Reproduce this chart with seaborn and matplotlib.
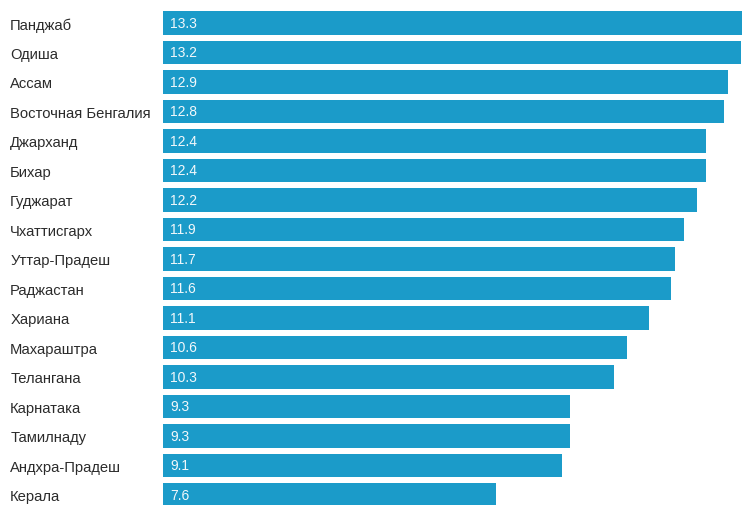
import pandas as pd
import matplotlib
matplotlib.use('Agg')
import matplotlib.pyplot as plt
import seaborn as sns

# Data
regions = ['Панджаб', 'Одиша', 'Ассам', 'Восточная Бенгалия', 'Джарханд', 'Бихар',
           'Гуджарат', 'Чхаттисгарх', 'Уттар-Прадеш', 'Раджастан', 'Хариана',
           'Махараштра', 'Телангана', 'Карнатака', 'Тамилнаду', 'Андхра-Прадеш', 'Керала']
values = [13.3, 13.2, 12.9, 12.8, 12.4, 12.4, 12.2, 11.9, 11.7, 11.6, 11.1,
          10.6, 10.3, 9.3, 9.3, 9.1, 7.6]

df = pd.DataFrame({'region': regions, 'value': values})

sns.set_style('white')
plt.rcParams['font.family'] = ['Liberation Sans', 'DejaVu Sans']

fig = plt.figure(figsize=(7.42, 5.06), dpi=100)
ax = fig.add_axes([163 / 742, 0, 1 - 163 / 742, 1])

sns.barplot(data=df, x='value', y='region', orient='h', color='#1b9bc9',
            saturation=1, width=0.8, linewidth=0, ax=ax)

ax.set_xlim(0, 13.22)
ax.set_ylim(16.34, -0.81)
ax.set_xlabel('')
ax.set_ylabel('')
ax.set_xticks([])
sns.despine(ax=ax, left=True, bottom=True)

# region names, left aligned near the figure edge
ax.tick_params(axis='y', length=0, pad=110)
for lbl in ax.get_yticklabels():
    lbl.set_horizontalalignment('left')
    lbl.set_color('#2b2b2b')
    lbl.set_fontsize(10.6)

# value labels inside the bars
for i, v in enumerate(values):
    ax.annotate(f'{v}', xy=(0, i), xytext=(5, 0), textcoords='offset points',
                va='center', ha='left', color='#f2f8fb', fontsize=10)

fig.savefig('out.png', dpi=100)
